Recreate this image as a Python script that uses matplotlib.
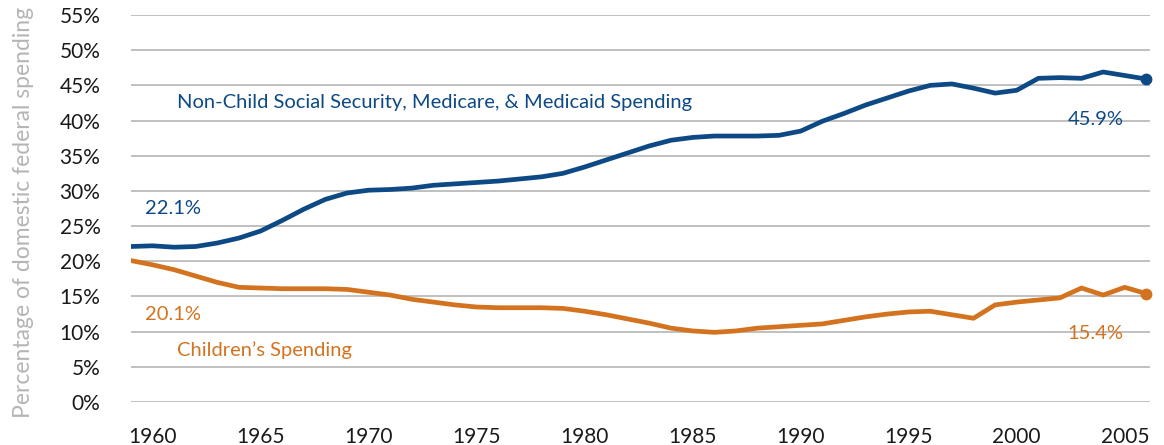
import numpy as np
import matplotlib
matplotlib.use("Agg")
import matplotlib.pyplot as plt

plt.rcParams['font.family'] = ['Lato', 'DejaVu Sans']

years = list(range(1959, 2007))

# Non-Child Social Security, Medicare, & Medicaid (%)
non_child = [22.1, 22.2, 22.0, 22.1, 22.6, 23.3, 24.3, 25.8, 27.4, 28.8,
             29.7, 30.1, 30.2, 30.4, 30.8, 31.0, 31.2, 31.4, 31.7, 32.0,
             32.5, 33.4, 34.4, 35.4, 36.4, 37.2, 37.6, 37.8, 37.8, 37.8,
             37.9, 38.5, 39.9, 41.0, 42.2, 43.2, 44.2, 45.0, 45.2, 44.6,
             43.9, 44.3, 46.0, 46.1, 46.0, 46.9, 46.4, 45.9]

# Children's spending (%)
children = [20.1, 19.5, 18.8, 17.9, 17.0, 16.3, 16.2, 16.1, 16.1, 16.1,
            16.0, 15.6, 15.2, 14.6, 14.2, 13.8, 13.5, 13.4, 13.4, 13.4,
            13.3, 12.9, 12.4, 11.8, 11.2, 10.5, 10.1, 9.9, 10.1, 10.5,
            10.7, 10.9, 11.1, 11.6, 12.1, 12.5, 12.8, 12.9, 12.4, 11.9,
            13.8, 14.2, 14.5, 14.8, 16.2, 15.2, 16.3, 15.4]

x_ticks = list(range(1960, 2006, 5))
y_ticks = list(range(0, 56, 5))

blue = "#0d4a85"
orange = "#d4731f"

fig = plt.figure(figsize=(11.64, 4.45), dpi=100)
ax = fig.add_axes([0.1125, 0.0966, 0.8755, 0.8697])

ax.plot(years, non_child, color=blue, lw=3.4, solid_joinstyle='round', solid_capstyle='round', zorder=3)
ax.plot(years, children, color=orange, lw=3.4, solid_joinstyle='round', solid_capstyle='round', zorder=3)
# end markers
ax.plot(years[-1], non_child[-1], 'o', color=blue, ms=7.5, zorder=4, clip_on=False)
ax.plot(years[-1], children[-1], 'o', color=orange, ms=7.5, zorder=4, clip_on=False)

ax.set_xlim(1959, 2006.17)
ax.set_ylim(0, 55)
ax.set_yticks(y_ticks)
ax.set_yticklabels([f"{v}%" for v in y_ticks])
ax.set_xticks(x_ticks)
ax.set_xticklabels([str(v) for v in x_ticks])
ax.tick_params(axis='both', length=0, labelsize=15, colors='#1a1a1a')
ax.tick_params(axis='y', pad=22)
ax.tick_params(axis='x', pad=18)
ax.yaxis.grid(True, color='#c0c0c0', lw=1.4)
ax.set_axisbelow(True)
for s in ax.spines.values():
    s.set_visible(False)

ax.set_ylabel("Percentage of domestic federal spending", color='#b5b5b5', fontsize=16.5)
ax.yaxis.set_label_coords(-0.095, 0.49)

# annotations
fs = 14.5
ax.text(1959.65, 27.5, f"{non_child[0]}%", color=blue, fontsize=fs, va='center', ha='left')
ax.text(1959.65, 12.5, f"{children[0]}%", color=orange, fontsize=fs, va='center', ha='left')
ax.text(1961.15, 42.5, "Non-Child Social Security, Medicare, & Medicaid Spending", color=blue, fontsize=fs, va='center', ha='left')
ax.text(1961.15, 7.4, "Children\u2019s Spending", color=orange, fontsize=fs, va='center', ha='left')
ax.text(2004.95, 40.2, f"{non_child[-1]}%", color=blue, fontsize=fs, va='center', ha='right')
ax.text(2004.95, 9.8, f"{children[-1]}%", color=orange, fontsize=fs, va='center', ha='right')

fig.savefig("out.png", dpi=100)
